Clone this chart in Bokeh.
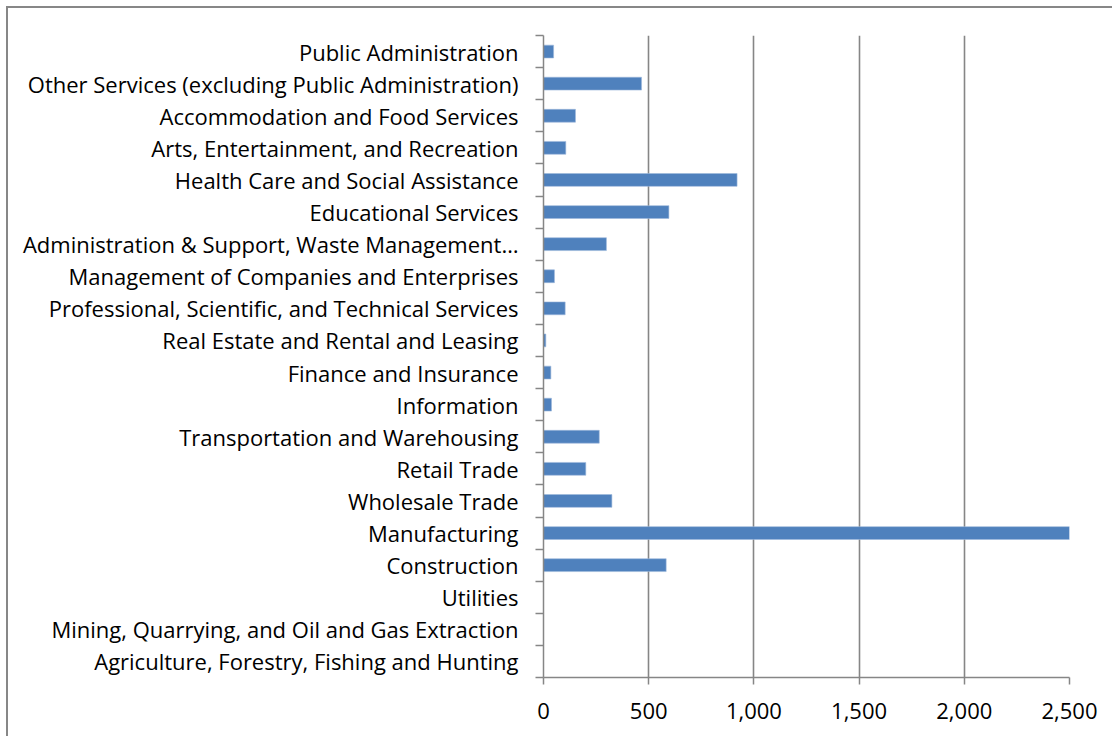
from bokeh.plotting import figure
from bokeh.models import FixedTicker, NumeralTickFormatter
from bokeh.embed import file_html
from bokeh.resources import INLINE

categories = [
    "Agriculture, Forestry, Fishing and Hunting",
    "Mining, Quarrying, and Oil and Gas Extraction",
    "Utilities",
    "Construction",
    "Manufacturing",
    "Wholesale Trade",
    "Retail Trade",
    "Transportation and Warehousing",
    "Information",
    "Finance and Insurance",
    "Real Estate and Rental and Leasing",
    "Professional, Scientific, and Technical Services",
    "Management of Companies and Enterprises",
    "Administration & Support, Waste Management\u2026",
    "Educational Services",
    "Health Care and Social Assistance",
    "Arts, Entertainment, and Recreation",
    "Accommodation and Food Services",
    "Other Services (excluding Public Administration)",
    "Public Administration",
]
values = [0, 0, 0, 583, 2520, 325, 201, 265, 38, 35, 11, 103, 52, 299, 596, 920, 106, 152, 466, 48]
x_ticks = [0, 500, 1000, 1500, 2000, 2500]

n = len(categories)
centers = [i + 0.5 for i in range(n)]

FONT = "Open Sans"
FS = "22px"

p = figure(width=1106, height=730, output_backend="svg", toolbar_location=None,
           x_range=(0, 2500), y_range=(0, n),
           min_border_left=535, min_border_right=45, min_border_top=27, min_border_bottom=61)
p.styles = {"border-left": "2px solid #878787", "border-top": "2px solid #878787",
            "margin-left": "6px", "margin-top": "6px"}
p.outline_line_color = None
p.background_fill_color = "white"
p.border_fill_color = "white"

p.hbar(y=centers, right=values, left=0, height=0.4, fill_color="#4f81bd",
       line_color="#9db8dc", line_width=0.6)

# x axis
xa = p.xaxis[0]
xa.ticker = FixedTicker(ticks=x_ticks)
xa.formatter = NumeralTickFormatter(format="0,0")
xa.axis_line_color = "#868686"
xa.axis_line_width = 1.5
xa.major_tick_line_color = "#868686"
xa.major_tick_line_width = 1.5
xa.major_tick_out = 7
xa.major_tick_in = 0
xa.minor_tick_line_color = None
xa.major_label_text_font = FONT
xa.major_label_text_font_size = FS
xa.major_label_text_color = "#000000"
xa.major_label_standoff = 18

# y axis
ya = p.yaxis[0]
ya.ticker = FixedTicker(ticks=centers, minor_ticks=list(range(n + 1)))
ya.major_label_overrides = {c: lab for c, lab in zip(centers, categories)}
ya.axis_line_color = "#868686"
ya.axis_line_width = 1.5
ya.major_tick_line_color = None
ya.major_tick_out = 0
ya.major_tick_in = 0
ya.minor_tick_line_color = "#868686"
ya.minor_tick_line_width = 1.5
ya.minor_tick_out = 8
ya.minor_tick_in = 0
ya.major_label_text_font = FONT
ya.major_label_text_font_size = FS
ya.major_label_text_color = "#000000"
ya.major_label_standoff = 17

p.xgrid.ticker = FixedTicker(ticks=x_ticks)
p.xgrid.grid_line_color = "#868686"
p.xgrid.grid_line_width = 1.6
p.ygrid.grid_line_color = None

open("out.html", "w").write(file_html(p, INLINE))
